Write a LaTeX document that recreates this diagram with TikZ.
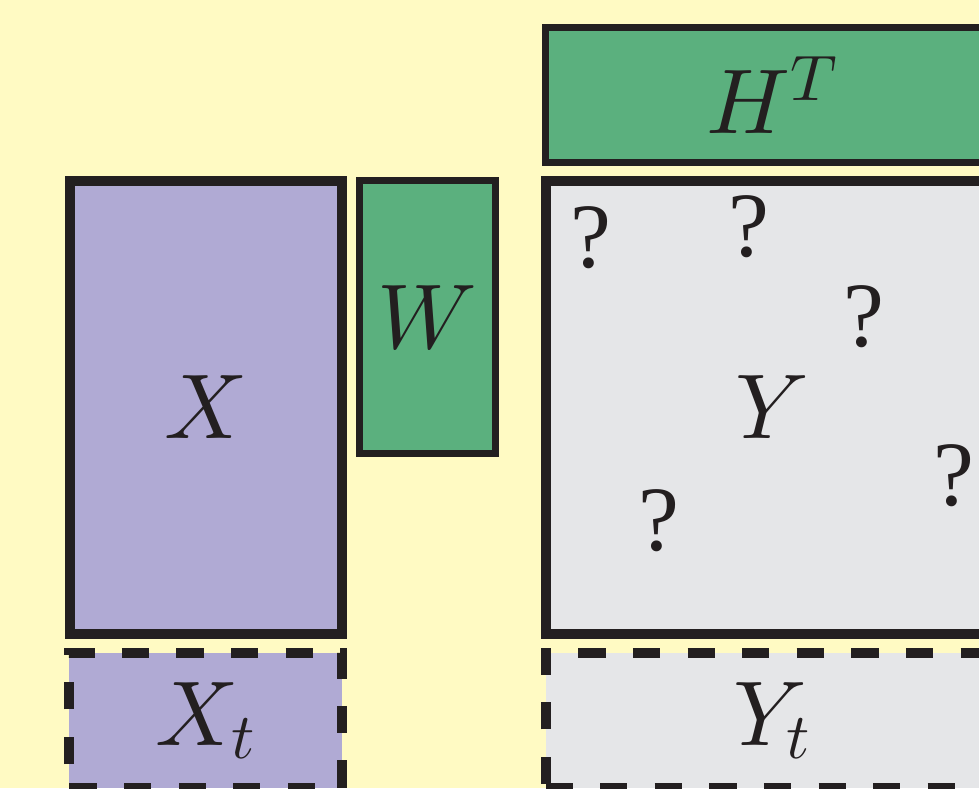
\RequirePackage{fix-cm}
\documentclass[tikz,border=0pt]{standalone}
\usepackage[no-math]{fontspec}
\newfontfamily\qfont{Liberation Serif}
\DeclareFontFamily{OML}{cmmx}{\skewchar\font'177}
\DeclareFontShape{OML}{cmmx}{m}{it}{<->cmmi10}{}
\DeclareSymbolFont{letters}{OML}{cmmx}{m}{it}
\definecolor{bgyellow}{HTML}{FFFAC3}
\definecolor{xpurple}{HTML}{B0AAD4}
\definecolor{mgreen}{HTML}{5BB07E}
\definecolor{ygray}{HTML}{E5E6E8}
\definecolor{ink}{HTML}{231F20}
\begin{document}
\begin{tikzpicture}[x=0.5pt,y=-0.5pt,
  font=\fontsize{46}{55}\selectfont, text=ink,
  bigbox/.style={draw=ink, line width=5pt, rectangle, inner sep=0pt, outer sep=0pt},
  thinbox/.style={draw=ink, line width=3.5pt, rectangle, inner sep=0pt, outer sep=0pt},
  dashbox/.style={rectangle, draw=none, inner sep=0pt, outer sep=0pt},
  dashedge/.style={draw=ink, line width=5pt, dash pattern=on 13.65pt off 13.65pt},
  qmark/.style={inner sep=0pt, font=\fontsize{46}{55}\qfont}]
\path[use as bounding box, fill=bgyellow] (0,0) rectangle (979,788);
\clip (0,0) rectangle (979,788);
\node[bigbox, fill=xpurple, minimum width=136.25pt, minimum height=226.5pt] (X) at (205.75,407.5) {$X$};
\node[thinbox, fill=mgreen, minimum width=68pt, minimum height=136.25pt] (W) at (427.5,316.75) {$W$};
\node[bigbox, fill=ygray, minimum width=226pt, minimum height=226.5pt] (Y) at (772,407.5) {$Y$};
\node[thinbox, fill=mgreen, minimum width=226.5pt, minimum height=67.75pt] (H) at (772,94.75) {$H^T$};
\node[dashbox, fill=xpurple, minimum width=136.5pt, minimum height=67.5pt] (Xt) at (205.5,720.5) {$X_t$};
\draw[dashedge, dash phase=15.3pt] (Xt.south west) -- (Xt.north west) -- (Xt.north east) -- (Xt.south east) -- cycle;
\node[dashbox, fill=ygray, minimum width=226.5pt, minimum height=67.5pt] (Yt) at (772,720.5) {$Y_t$};
\draw[dashedge, dash phase=25.3pt] (Yt.south west) -- (Yt.north west) -- (Yt.north east);
\draw[dashedge] (Yt.south west) -- (Yt.south east);
\node[qmark] (q1) at (591,238) {?};
\node[qmark] (q2) at (749,226.5) {?};
\node[qmark] (q3) at (863.5,316.5) {?};
\node[qmark] (q4) at (953.5,475.5) {?};
\node[qmark] (q5) at (659,520.5) {?};
\end{tikzpicture}
\end{document}
